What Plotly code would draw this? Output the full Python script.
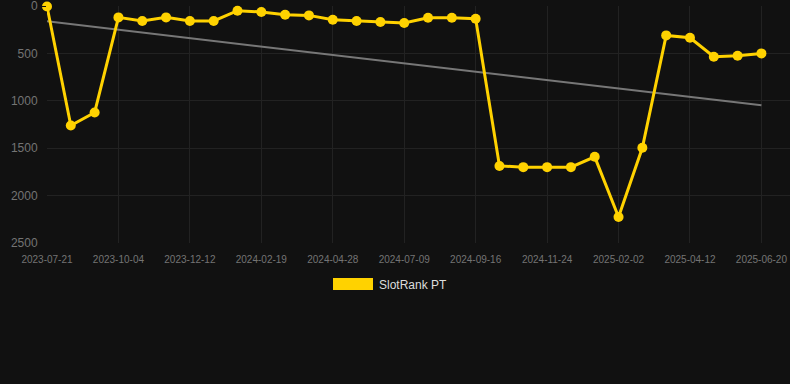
import numpy as np
import plotly.graph_objects as go

# ---- data ----
dates = [
    "2023-07-21", "2023-08-15", "2023-09-09", "2023-10-04", "2023-10-27", "2023-11-19",
    "2023-12-12", "2024-01-04", "2024-01-27", "2024-02-19", "2024-03-12", "2024-04-05",
    "2024-04-28", "2024-05-22", "2024-06-15", "2024-07-09", "2024-08-01", "2024-08-24",
    "2024-09-16", "2024-10-09", "2024-11-01", "2024-11-24", "2024-12-17", "2025-01-09",
    "2025-02-02", "2025-02-25", "2025-03-20", "2025-04-12", "2025-05-05", "2025-05-28",
    "2025-06-20",
]
rank_pt = [
    5, 1260, 1123, 120, 158, 120, 158, 158, 50, 63, 92, 99, 145, 158, 169, 180,
    124, 124, 134, 1687, 1700, 1700, 1700, 1591, 2225, 1496, 310, 335, 535, 525, 500,
]
tick_labels = dates[::3]
y_ticks = [0, 500, 1000, 1500, 2000, 2500]
series_name = "SlotRank PT"

# trend line (linear fit over the series)
idx = np.arange(len(rank_pt))
slope, intercept = np.polyfit(idx, rank_pt, 1)
trend = [intercept + slope * i for i in idx]

BG = "#111111"
GOLD = "#FFD200"
GRID = "#222222"
TICK = "#747474"

fig = go.Figure()
fig.add_trace(go.Scatter(
    x=dates, y=trend, mode="lines",
    line=dict(color="#777777", width=2),
    showlegend=False, hoverinfo="skip", cliponaxis=False,
))
fig.add_trace(go.Scatter(
    x=dates, y=rank_pt, mode="lines+markers", name=series_name,
    line=dict(color=GOLD, width=3),
    marker=dict(color=GOLD, size=10),
    showlegend=False, cliponaxis=False,
))

# legend drawn as swatch + text
L, R, T, B = 47, 0, 6, 141
pw, ph = 790 - L - R, 384 - T - B
def px(xp): return (xp - L) / pw
def py(yp): return (T + ph - yp) / ph

fig.add_shape(type="rect", xref="paper", yref="paper",
              x0=px(333), x1=px(373), y0=py(290), y1=py(278),
              fillcolor=GOLD, line=dict(width=0))
fig.add_annotation(xref="paper", yref="paper", x=px(377), y=py(284.5),
                   text=series_name, showarrow=False, xanchor="left", yanchor="middle",
                   font=dict(color="#dddddd", size=12, family="Liberation Sans, Arial"))

fig.update_layout(
    width=790, height=384,
    margin=dict(l=L, r=R, t=T, b=B),
    paper_bgcolor=BG, plot_bgcolor=BG,
    font=dict(family="Liberation Sans, Arial", color=TICK),
    xaxis=dict(
        type="category", range=[0, 31.2],
        tickmode="array", tickvals=tick_labels, ticktext=tick_labels,
        tickfont=dict(size=10, color=TICK),
        showgrid=True, gridcolor=GRID, gridwidth=1,
        zeroline=False, showline=False,
        ticks="outside", ticklen=7, tickcolor=BG,
    ),
    yaxis=dict(
        range=[2500, 0], tickvals=y_ticks,
        tickfont=dict(size=12, color=TICK),
        showgrid=True, gridcolor=GRID, gridwidth=1,
        zeroline=False, showline=False,
        ticks="outside", ticklen=6, tickcolor=BG,
        ticklabeloverflow="allow",
    ),
)

fig.write_html(
    "out.html",
    config={"displayModeBar": False},
    post_script="document.body.style.margin='0';document.body.style.background='#111111';",
)
